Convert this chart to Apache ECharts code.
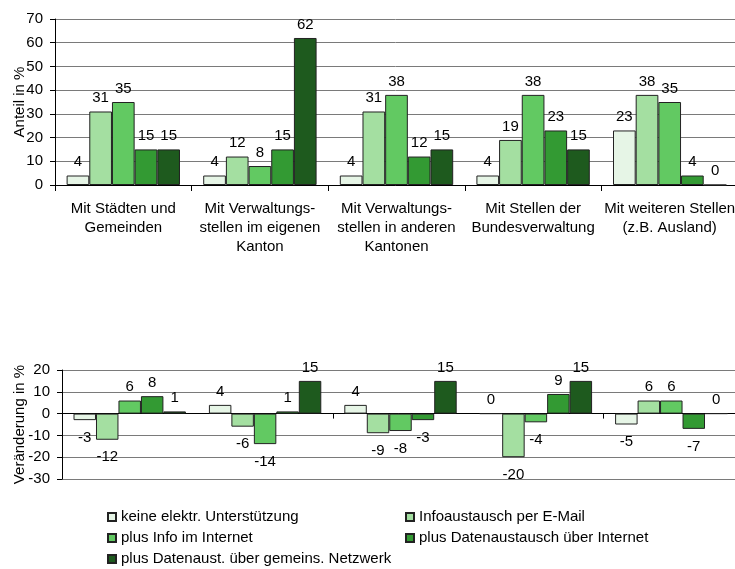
<!DOCTYPE html>
<html><head><meta charset="utf-8">
<script src="https://cdn.jsdelivr.net/npm/echarts@6/dist/echarts.min.js"></script>
<style>html,body{margin:0;padding:0;background:#fff}#c{width:735px;height:569px}</style>
</head><body><div id="c"></div>
<script>
const categories = [
  'Mit Städten und\nGemeinden',
  'Mit Verwaltungs-\nstellen im eigenen\nKanton',
  'Mit Verwaltungs-\nstellen in anderen\nKantonen',
  'Mit Stellen der\nBundesverwaltung',
  'Mit weiteren Stellen\n(z.B. Ausland)'
];
const seriesNames = [
  'keine elektr. Unterstützung',
  'Infoaustausch per E-Mail',
  'plus Info im Internet',
  'plus Datenaustausch über Internet',
  'plus Datenaust. über gemeins. Netzwerk'
];
const seriesColors = ['#E6F5E6', '#A4DFA1', '#62C962', '#339A33', '#1E5A1E'];

// Anteil in %
const shareKeine    = [4, 4, 4, 4, 23];
const shareEmail    = [31, 12, 31, 19, 38];
const shareInfo     = [35, 8, 38, 38, 35];
const shareDaten    = [15, 15, 12, 23, 4];
const shareNetzwerk = [15, 62, 15, 15, 0];

// Veränderung in %
const changeKeine    = [-3, 4, 4, 0, -5];
const changeEmail    = [-12, -6, -9, -20, 6];
const changeInfo     = [6, -14, -8, -4, 6];
const changeDaten    = [8, 1, -3, 9, -7];
const changeNetzwerk = [1, 15, 15, 15, 0];

const shareData = [shareKeine, shareEmail, shareInfo, shareDaten, shareNetzwerk];
const changeData = [changeKeine, changeEmail, changeInfo, changeDaten, changeNetzwerk];

const FONT = 'Liberation Sans, Arial, sans-serif';

function makeSeries(vals, i, axisIdx) {
  return {
    type: 'bar',
    name: seriesNames[i],
    xAxisIndex: axisIdx,
    yAxisIndex: axisIdx,
    barGap: '0%',
    barCategoryGap: '17%',
    itemStyle: { color: seriesColors[i], borderColor: '#222', borderWidth: 1 },
    emphasis: { disabled: true },
    data: vals.map(v => ({
      value: v,
      label: { position: v < 0 ? 'bottom' : 'top', distance: v < 0 ? 10 : 6 }
    })),
    label: { show: true, color: '#000', fontSize: 15, fontFamily: FONT }
  };
}

const series = [];
shareData.forEach((vals, i) => series.push(makeSeries(vals, i, 0)));
changeData.forEach((vals, i) => series.push(makeSeries(vals, i, 1)));

const legendPos = [
  { left: 107, top: 509 },
  { left: 405, top: 509 },
  { left: 107, top: 530 },
  { left: 405, top: 530 },
  { left: 107, top: 551 }
];
const legends = seriesNames.map((n, i) => Object.assign({
  data: [n],
  orient: 'horizontal',
  padding: 0,
  icon: 'rect',
  itemWidth: 8,
  itemHeight: 8,
  selectedMode: false,
  textStyle: { fontSize: 15, color: '#000', fontFamily: FONT, lineHeight: 16 }
}, legendPos[i]));

const axisLineBlack = { show: true, lineStyle: { color: '#000', width: 1 } };

const option = {
  animation: false,
  backgroundColor: '#fff',
  textStyle: { fontFamily: FONT },
  legend: legends,
  grid: [
    { left: 55, top: 19, width: 683, height: 166, containLabel: false, outerBoundsMode: 'none' },
    { left: 62, top: 370, width: 677, height: 109, containLabel: false, outerBoundsMode: 'none' }
  ],
  xAxis: [
    {
      gridIndex: 0, type: 'category', data: categories,
      axisLine: axisLineBlack,
      axisTick: { show: true, length: 6, lineStyle: { color: '#000' } },
      axisLabel: { interval: 0, color: '#000', fontSize: 15, lineHeight: 19, margin: 14, fontFamily: FONT }
    },
    {
      gridIndex: 1, type: 'category', data: categories,
      axisLine: axisLineBlack,
      axisTick: { show: true, length: 5, lineStyle: { color: '#000' } },
      axisLabel: { show: false }
    }
  ],
  yAxis: [
    {
      gridIndex: 0, type: 'value', min: 0, max: 70, interval: 10,
      name: 'Anteil in %', nameLocation: 'middle', nameGap: 28, nameMoveOverlap: false,
      nameTextStyle: { fontSize: 15, color: '#000', fontFamily: FONT },
      axisLine: axisLineBlack,
      axisTick: { show: true, length: 5, lineStyle: { color: '#000' } },
      axisLabel: { color: '#000', fontSize: 15, margin: 12, fontFamily: FONT },
      splitLine: { show: true, lineStyle: { color: '#7a7a7a', width: 1 } }
    },
    {
      gridIndex: 1, type: 'value', min: -30, max: 20, interval: 10,
      name: 'Veränderung in %', nameLocation: 'middle', nameGap: 35, nameMoveOverlap: false,
      nameTextStyle: { fontSize: 15, color: '#000', fontFamily: FONT },
      axisLine: axisLineBlack,
      axisTick: { show: true, length: 5, lineStyle: { color: '#000' } },
      axisLabel: { color: '#000', fontSize: 15, margin: 12, fontFamily: FONT },
      splitLine: { show: true, lineStyle: { color: '#7a7a7a', width: 1 } }
    }
  ],
  series: series
};

const chart = echarts.init(document.getElementById('c'), null, { renderer: 'canvas' });
chart.setOption(option);
</script>
</body></html>
